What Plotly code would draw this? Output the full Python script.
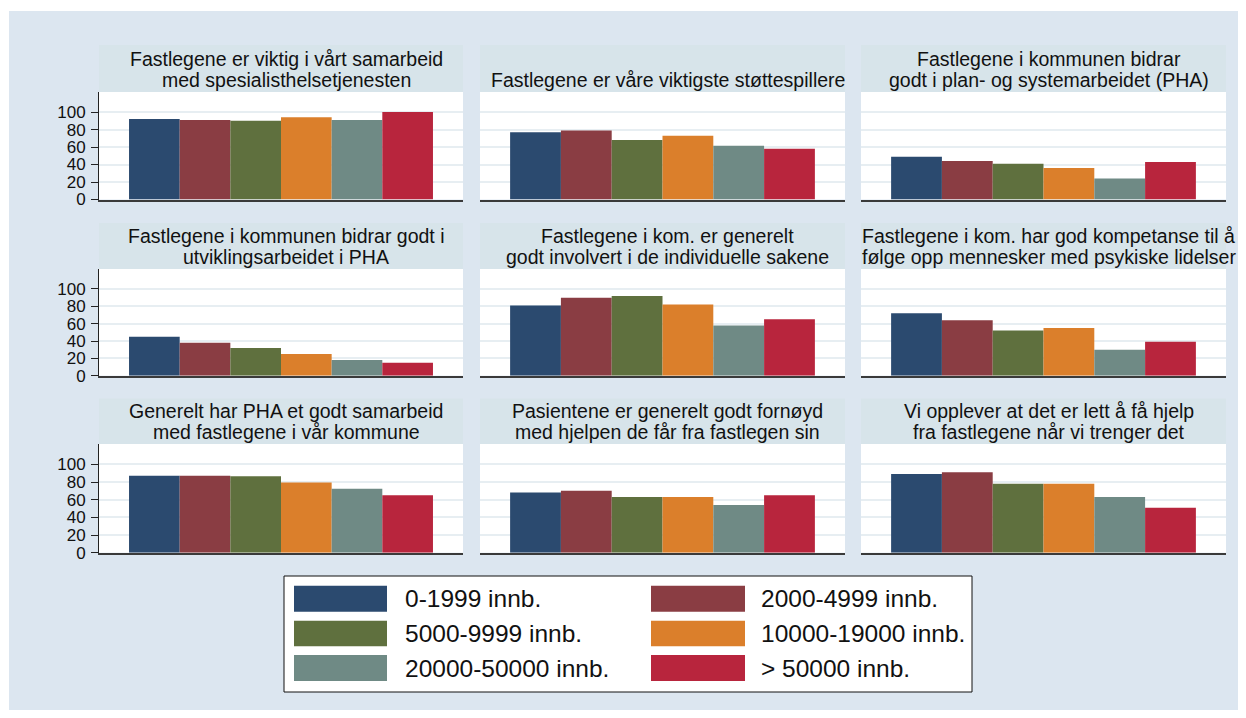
import plotly.graph_objects as go

# the page has an 8px body margin; the figure is sized so the page is exactly 1246x718
OFF = 8
W, H = 1246 - 2 * OFF, 718 - 2 * OFF

# ---- data ----
groups = ["0-1999 innb.", "2000-4999 innb.", "5000-9999 innb.",
          "10000-19000 innb.", "20000-50000 innb.", "> 50000 innb."]
colors = ["#2b4a6f", "#8a3d43", "#5f703e", "#db7f2b", "#6f8a85", "#b8253d"]

statements = [
    ["Fastlegene er viktig i vårt samarbeid", "med spesialisthelsetjenesten"],
    ["Fastlegene er våre viktigste støttespillere"],
    ["Fastlegene i kommunen bidrar", "godt i plan- og systemarbeidet (PHA)"],
    ["Fastlegene i kommunen bidrar godt i", "utviklingsarbeidet i PHA"],
    ["Fastlegene i kom. er generelt", "godt involvert i de individuelle sakene"],
    ["Fastlegene i kom. har god kompetanse til å", "følge opp mennesker med psykiske lidelser"],
    ["Generelt har PHA et godt samarbeid", "med fastlegene i vår kommune"],
    ["Pasientene er generelt godt fornøyd", "med hjelpen de får fra fastlegen sin"],
    ["Vi opplever at det er lett å få hjelp", "fra fastlegene når vi trenger det"],
]

v_0_1999 = [92, 77, 49, 45, 81, 72, 87, 68, 89]
v_2000_4999 = [91, 79, 44, 38, 90, 64, 87, 70, 91]
v_5000_9999 = [90, 68, 41, 32, 92, 52, 86.5, 63, 78]
v_10000_19000 = [94, 73, 36, 25, 82, 55, 79.5, 63, 78]
v_20000_50000 = [91, 61.5, 24, 18, 58, 30, 72.5, 54, 63]
v_over_50000 = [100, 58, 43, 15, 65, 39, 65, 65, 51]
series = [v_0_1999, v_2000_4999, v_5000_9999, v_10000_19000, v_20000_50000, v_over_50000]

y_ticks = [0, 20, 40, 60, 80, 100]
y_max = 123

# ---- layout geometry (page pixels) ----
col_x = [(99, 463), (480, 845), (861, 1226)]
row_plot = [(92, 199.5), (269, 375.7), (444, 552.7)]
row_strip = [(45, 92), (223, 269), (398.5, 444)]

FONT = "Liberation Sans, Arial, Helvetica, sans-serif"
BG = "#dce6f0"
STRIP = "#d7e4ea"
GRID = "#e7eef2"


def px(x):
    return (x - OFF) / W


def py(y):
    return 1 - (y - OFF) / H


fig = go.Figure()
layout = dict(
    width=W, height=H,
    margin=dict(l=0, r=0, t=0, b=0, autoexpand=False),
    paper_bgcolor=BG, plot_bgcolor="white",
    barmode="group", bargap=0.165, bargroupgap=0,
    showlegend=False,
    font=dict(family=FONT, color="#111"),
)
shapes = []
annotations = []

# thin white outer border (top and left)
shapes.append(dict(type="rect", xref="paper", yref="paper", x0=0, x1=1, y0=py(11), y1=1,
                   fillcolor="white", line=dict(width=0), layer="below"))
shapes.append(dict(type="rect", xref="paper", yref="paper", x0=0, x1=px(9), y0=0, y1=1,
                   fillcolor="white", line=dict(width=0), layer="below"))

for i, lines in enumerate(statements):
    r, c = divmod(i, 3)
    k = i + 1
    xa = "xaxis" if k == 1 else f"xaxis{k}"
    ya = "yaxis" if k == 1 else f"yaxis{k}"
    xr = "x" if k == 1 else f"x{k}"
    yr = "y" if k == 1 else f"y{k}"
    x0, x1 = col_x[c]
    top, bot = row_plot[r]
    cat = f"q{k}"
    for g, name in enumerate(groups):
        fig.add_trace(go.Bar(
            x=[cat], y=[series[g][i]], name=name, legendgroup=name,
            marker=dict(color=colors[g], line=dict(width=0)),
            xaxis=xr, yaxis=yr, showlegend=False, hoverinfo="name+y",
        ))
    layout[xa] = dict(
        domain=[px(x0), px(x1)], anchor=yr, type="category", range=[-0.5, 0.5],
        showticklabels=False, ticks="", showgrid=False, zeroline=False, automargin=False,
        showline=True, linecolor="#3a3a3a", linewidth=1.5,
    )
    yax = dict(
        domain=[py(bot), py(top)], anchor=xr, range=[0, y_max], automargin=False,
        tickvals=y_ticks, showgrid=True, gridcolor=GRID, gridwidth=1.5,
        zeroline=False,
    )
    if c == 0:
        yax.update(showline=True, linecolor="#222", linewidth=1, ticks="outside",
                   ticklen=7, tickcolor="#222", tickwidth=1, showticklabels=True,
                   tickfont=dict(size=17, family=FONT, color="#111"),
                   ticklabelstandoff=2)
    else:
        yax.update(showline=False, ticks="", showticklabels=False)
    layout[ya] = yax

    # title strip
    s0, s1 = row_strip[r]
    shapes.append(dict(type="rect", xref="paper", yref="paper",
                       x0=px(x0), x1=px(x1), y0=py(s1), y1=py(s0),
                       fillcolor=STRIP, line=dict(width=0), layer="below"))
    cx = (x0 + x1) / 2 + 5
    offsets = [-33.0, -12.5] if len(lines) == 2 else [-12.5]
    for line, off in zip(lines, offsets):
        annotations.append(dict(
            text=line, xref="paper", yref="paper", x=px(cx), y=py(s1 + off),
            xanchor="center", yanchor="middle", showarrow=False,
            font=dict(size=19.5, family=FONT, color="#111"),
        ))

# ---- legend (2 columns) ----
shapes.append(dict(type="rect", xref="paper", yref="paper",
                   x0=px(284), x1=px(972), y0=py(692), y1=py(576),
                   fillcolor="white", line=dict(color="#111", width=1)))
sw_x = [(294, 387), (651, 745)]
txt_x = [403, 759]
row_y = [(585.7, 611.7), (620.7, 646.3), (655, 681)]
for g, name in enumerate(groups):
    rr, cc = divmod(g, 2)
    a0, a1 = sw_x[cc]
    b0, b1 = row_y[rr]
    shapes.append(dict(type="rect", xref="paper", yref="paper",
                       x0=px(a0), x1=px(a1), y0=py(b1), y1=py(b0),
                       fillcolor=colors[g], line=dict(width=0)))
    annotations.append(dict(
        text=name, xref="paper", yref="paper", x=px(txt_x[cc]), y=py((b0 + b1) / 2),
        xanchor="left", yanchor="middle", showarrow=False,
        font=dict(size=24.5, family=FONT, color="#111"),
    ))

layout["shapes"] = shapes
layout["annotations"] = annotations
fig.update_layout(**layout)
fig.write_html("out.html")
